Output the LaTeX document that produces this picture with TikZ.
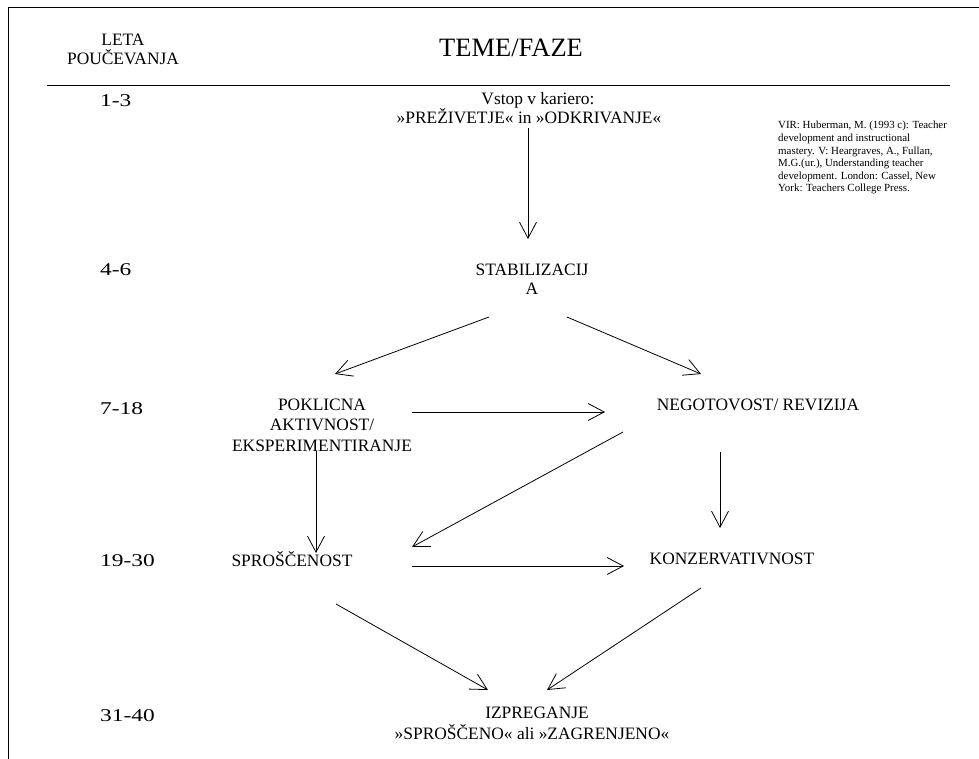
\documentclass[tikz,border=0pt]{standalone}
\usepackage{fontspec}
\setmainfont{Liberation Serif}
\newfontfamily\numfont[FakeStretch=1.3]{Liberation Serif}
\usetikzlibrary{arrows.meta}
\begin{document}
\begin{tikzpicture}[x=1pt,y=-1pt,
  txt/.style={font=\fontsize{17.4}{20}\selectfont, inner sep=0pt, align=center, anchor=base},
  num/.style={font=\numfont\fontsize{18}{20}\selectfont, inner sep=0pt, anchor=base west},
  arr/.style={line width=0.8pt, -{Straight Barb[length=16pt,width=17pt,line width=0.8pt]}},
  frame/.style={line width=1pt}]
\useasboundingbox (0,0) rectangle (979,759);
\draw[frame] (979,8) -- (8,8) -- (8,759);
\draw[frame] (47,86) -- (950,86);

% headers (base anchor = baseline of the last line)
\node[txt, font=\fontsize{17.4}{19}\selectfont] (leta) at (123,65) {LETA\\POUČEVANJA};
\node[txt, font=\fontsize{26.5}{28}\selectfont] (teme) at (511,57) {TEME/FAZE};

% years
\node[num] (y1) at (100,107) {1-3};
\node[num] (y2) at (100,276) {4-6};
\node[num] (y3) at (100,414) {7-18};
\node[num] (y4) at (100,566) {19-30};
\node[num] (y5) at (100,721) {31-40};

% source
\node[inner sep=0pt, anchor=base west, align=left, font=\fontsize{10.9}{12.6}\selectfont] (vir) at (778,192)
 {VIR: Huberman, M. (1993 c): Teacher\\development and instructional\\mastery. V: Heargraves, A., Fullan,\\M.G.(ur.), Understanding teacher\\development. London: Cassel, New\\York: Teachers College Press.};

% phases
\node[txt, font=\fontsize{17.4}{19}\selectfont] (vstop) at (529,124) {\hspace*{18pt}Vstop v kariero:\\»PREŽIVETJE« in »ODKRIVANJE«};
\node[txt, font=\fontsize{17.4}{18}\selectfont] (stab) at (532,294) {STABILIZACIJ\\A};
\node[txt, font=\fontsize{17.4}{20.5}\selectfont] (pok) at (322,451) {POKLICNA\\AKTIVNOST/\\EKSPERIMENTIRANJE};
\node[txt] (neg) at (758,410) {NEGOTOVOST/ REVIZIJA};
\node[txt] (spr) at (292,566) {SPROŠČENOST};
\node[txt] (kon) at (732,564) {KONZERVATIVNOST};
\node[txt, font=\fontsize{17.4}{21}\selectfont] (izp) at (532,739) {\hspace*{10pt}IZPREGANJE\\»SPROŠČENO« ali »ZAGRENJENO«};

% connector end points
\coordinate (vstop-o) at (528,128);
\coordinate (stab-i) at (528,239);
\coordinate (stab-oL) at (489,317);
\coordinate (stab-oR) at (567,317);
\coordinate (pok-i) at (335,374);
\coordinate (neg-i) at (701,374);
\coordinate (pok-oR) at (412,412);
\coordinate (neg-iL) at (605,412);
\coordinate (neg-oL) at (623,432);
\coordinate (spr-iR) at (412,547);
\coordinate (pok-oD) at (316,451);
\coordinate (spr-iU) at (316,553);
\coordinate (neg-oD) at (720,452);
\coordinate (kon-iU) at (720,528);
\coordinate (spr-oR) at (412,566);
\coordinate (kon-iL) at (624,566);
\coordinate (spr-oD) at (336,604);
\coordinate (izp-iL) at (488,690);
\coordinate (kon-oD) at (701,588);
\coordinate (izp-iR) at (547,690);

\draw[arr] (vstop-o) -- (stab-i);
\draw[arr] (stab-oL) -- (pok-i);
\draw[arr] (stab-oR) -- (neg-i);
\draw[arr] (pok-oR) -- (neg-iL);
\draw[arr] (neg-oL) -- (spr-iR);
\draw[arr] (pok-oD) -- (spr-iU);
\draw[arr] (neg-oD) -- (kon-iU);
\draw[arr] (spr-oR) -- (kon-iL);
\draw[arr] (spr-oD) -- (izp-iL);
\draw[arr] (kon-oD) -- (izp-iR);
\end{tikzpicture}
\end{document}
